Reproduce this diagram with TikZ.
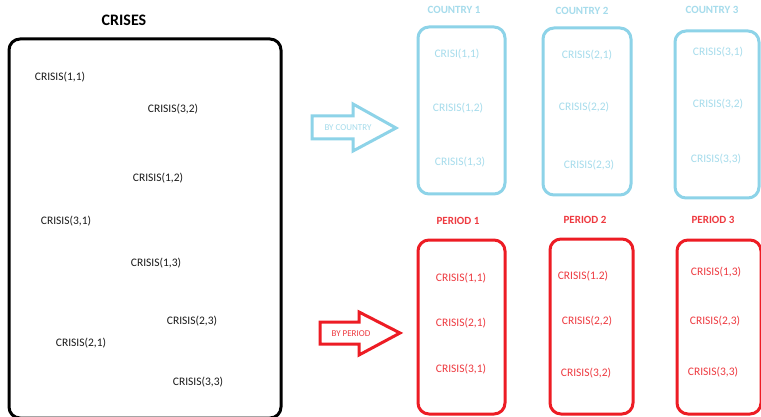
\documentclass[tikz,border=0pt]{standalone}
\usepackage{fontspec}
\setmainfont{Carlito}
\definecolor{cblue}{HTML}{8DD3E8}
\definecolor{cbluetext}{HTML}{A6DCEC}
\definecolor{cred}{HTML}{ED1C24}
\definecolor{credtext}{HTML}{EE3A40}
\definecolor{ctext}{HTML}{1A1A1A}
\tikzset{
  bigbox/.style={draw=black, line width=3pt, rounded corners=11pt},
  bluebox/.style={draw=cblue, line width=3pt, rounded corners=11pt},
  redbox/.style={draw=cred, line width=3pt, rounded corners=11pt},
  item/.style={font=\fontsize{11.5}{13}\selectfont, text=ctext, inner sep=0pt},
  blueitem/.style={font=\fontsize{11.5}{13}\selectfont, text=cbluetext, inner sep=0pt},
  reditem/.style={font=\fontsize{11.5}{13}\selectfont, text=credtext, inner sep=0pt},
  bluehead/.style={font=\bfseries\fontsize{11}{13}\selectfont, text=cbluetext, inner sep=0pt},
  redhead/.style={font=\bfseries\fontsize{11}{13}\selectfont, text=credtext, inner sep=0pt},
  blockarrow/.style={line width=3pt, line join=miter, fill=white},
  arrowlabel/.style={font=\fontsize{9}{11}\selectfont, inner sep=0pt}
}
\begin{document}
\begin{tikzpicture}[x=1pt,y=-1pt]
\useasboundingbox (0,0) rectangle (761,417);
\clip (0,0) rectangle (761,417);
\fill[white] (0,0) rectangle (761,417);

% left panel
\node[font=\bfseries\fontsize{16}{18}\selectfont, inner sep=0pt] (title) at (124,20) {CRISES};
\draw[bigbox] (9,39) rectangle (281,418);
\node[item] (l11) at (60,77) {CRISIS(1,1)};
\node[item] (l32) at (173,109) {CRISIS(3,2)};
\node[item] (l12) at (158,178) {CRISIS(1,2)};
\node[item] (l31) at (66,221) {CRISIS(3,1)};
\node[item] (l13) at (156,263) {CRISIS(1,3)};
\node[item] (l23) at (192,321) {CRISIS(2,3)};
\node[item] (l21) at (81,343) {CRISIS(2,1)};
\node[item] (l33) at (198,382) {CRISIS(3,3)};

% by country arrow
\draw[blockarrow, draw=cblue] (312,116) -- (353,116) -- (353,104) -- (396,128) -- (353,151) -- (353,139) -- (312,139) -- cycle;
\node[arrowlabel, text=cbluetext] (bycountry) at (348,128) {BY COUNTRY};

% countries
\node[bluehead] (c1) at (454,10) {COUNTRY 1};
\node[bluehead] (c2) at (582,11) {COUNTRY 2};
\node[bluehead] (c3) at (712,10) {COUNTRY 3};
\draw[bluebox] (418,27) rectangle (505,194);
\draw[bluebox] (543,28) rectangle (631,195);
\draw[bluebox] (675,31) rectangle (759,198);
\node[blueitem] (b11) at (457,54) {CRISI(1,1)};
\node[blueitem] (b12) at (458,108) {CRISIS(1,2)};
\node[blueitem] (b13) at (460,162) {CRISIS(1,3)};
\node[blueitem] (b21) at (587,55) {CRISIS(2,1)};
\node[blueitem] (b22) at (584,107) {CRISIS(2,2)};
\node[blueitem] (b23) at (589,165) {CRISIS(2,3)};
\node[blueitem] (b31) at (718,52) {CRISIS(3,1)};
\node[blueitem] (b32) at (718,104) {CRISIS(3,2)};
\node[blueitem] (b33) at (716,159) {CRISIS(3,3)};

% by period arrow
\draw[blockarrow, draw=cred] (320,322) -- (359,322) -- (359,312) -- (400,333) -- (359,355) -- (359,344) -- (320,344) -- cycle;
\node[arrowlabel, text=credtext] (byperiod) at (351,334) {BY PERIOD};

% periods
\node[redhead] (p1) at (458,221) {PERIOD 1};
\node[redhead] (p2) at (585,220) {PERIOD 2};
\node[redhead] (p3) at (713,220) {PERIOD 3};
\draw[redbox] (418,240) rectangle (505,414);
\draw[redbox] (550,239) rectangle (633,414);
\draw[redbox] (677,240) rectangle (761,414);
\node[reditem] (r11) at (461,278) {CRISIS(1,1)};
\node[reditem] (r21) at (461,323) {CRISIS(2,1)};
\node[reditem] (r31) at (461,369) {CRISIS(3,1)};
\node[reditem] (r12) at (583,276) {CRISIS(1.2)};
\node[reditem] (r22) at (587,321) {CRISIS(2,2)};
\node[reditem] (r32) at (586,373) {CRISIS(3,2)};
\node[reditem] (r13) at (716,272) {CRISIS(1,3)};
\node[reditem] (r23) at (715,321) {CRISIS(2,3)};
\node[reditem] (r33) at (713,372) {CRISIS(3,3)};
\end{tikzpicture}
\end{document}
